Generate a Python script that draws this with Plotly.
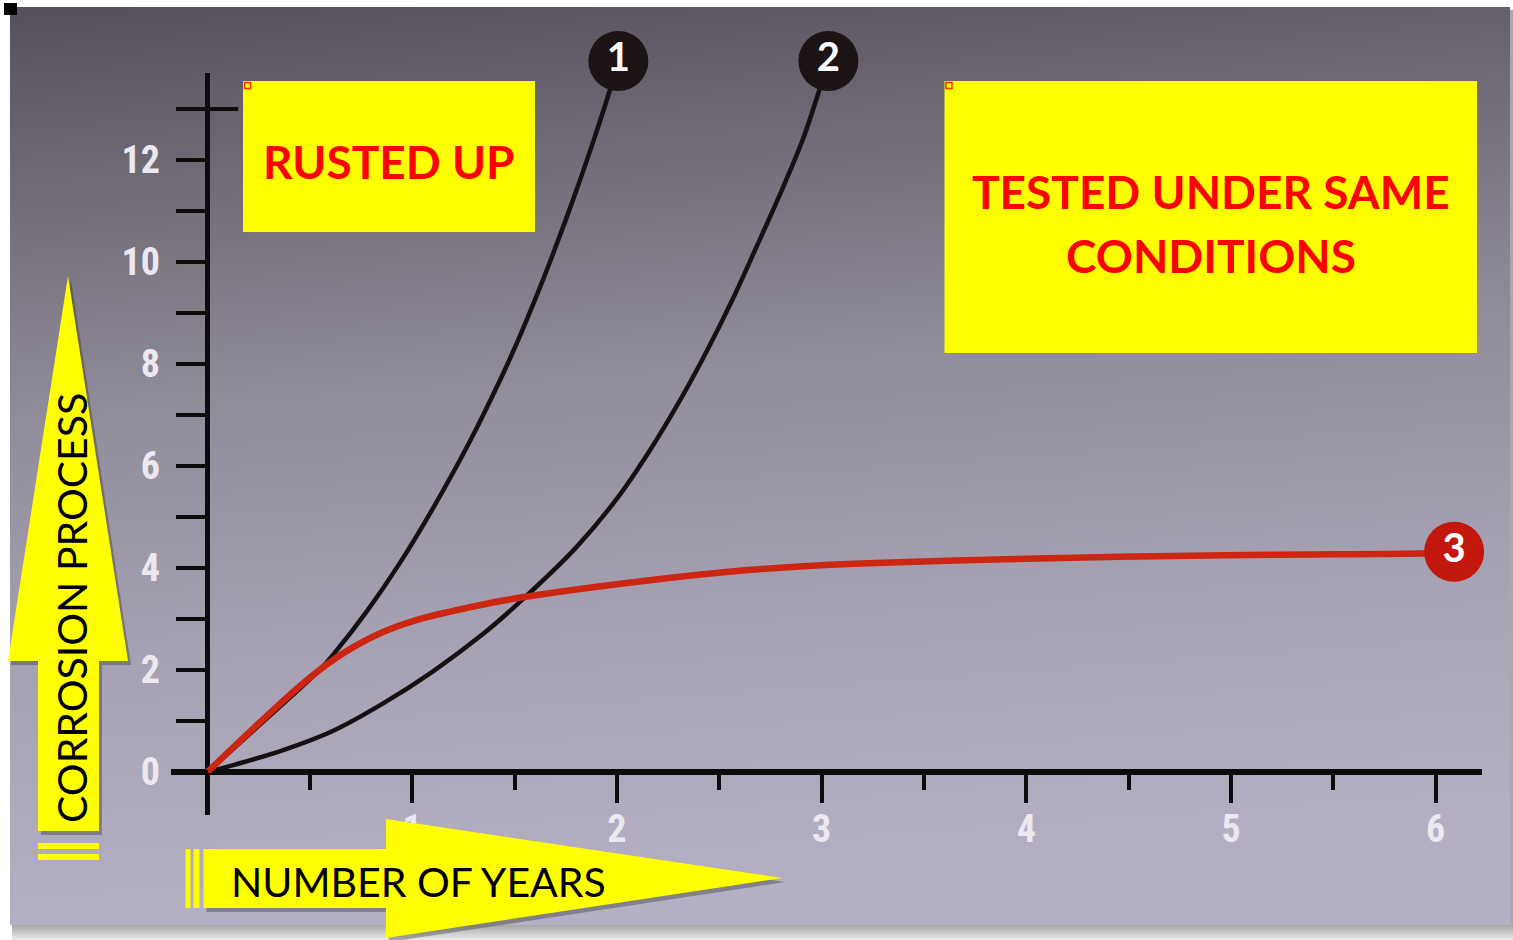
import base64
import plotly.graph_objects as go

W, H = 1513, 940

# ---------------- data ----------------
years_1 = [0, 0.29, 0.55, 0.62, 0.78, 0.94, 1.10, 1.28, 1.43, 1.51, 1.61, 1.69,
           1.80, 1.885, 1.958, 2.007]
corrosion_1 = [0, 1.05, 2.01, 2.33, 3.16, 4.10, 5.16, 6.47, 7.69, 8.40, 9.36, 10.18,
               11.38, 12.37, 13.27, 13.94]

years_2 = [0, 0.13, 0.37, 0.62, 0.86, 1.10, 1.35, 1.53, 1.80, 2.00, 2.16, 2.31,
           2.44, 2.57, 2.68, 2.81, 2.91, 2.984, 3.033]
corrosion_2 = [0, 0.14, 0.43, 0.82, 1.35, 1.97, 2.72, 3.35, 4.40, 5.36, 6.30, 7.30,
               8.26, 9.31, 10.28, 11.45, 12.42, 13.31, 13.94]

years_3 = [0, 0.13, 0.29, 0.45, 0.58, 0.70, 0.86, 1.02, 1.27, 1.53, 2.16, 2.64,
           2.89, 3.19, 3.8, 4.45, 5.2, 5.96, 6.09]
corrosion_3 = [0, 0.5, 1.10, 1.68, 2.10, 2.42, 2.75, 2.98, 3.22, 3.42, 3.76, 3.96,
               4.03, 4.09, 4.16, 4.22, 4.26, 4.29, 4.32]

curve_labels = ["1", "2", "3"]

x_tick_vals = [1, 2, 3, 4, 5, 6]
x_tick_text = ["1", "2", "3", "4", "5", "6"]
y_tick_vals = [0, 2, 4, 6, 8, 10, 12]
y_tick_text = ["0", "2", "4", "6", "8", "10", "12"]

# ---------------- helpers ----------------
def P(x, y):
    return x / W, 1 - y / H


def path(points):
    s = ""
    for i, (x, y) in enumerate(points):
        px, py = P(x, y)
        s += ("M" if i == 0 else "L") + f"{px:.5f},{py:.5f} "
    return s + "Z"


# ---------------- background (photo look) ----------------
svg = f"""<svg xmlns='http://www.w3.org/2000/svg' width='{W}' height='{H}' viewBox='0 0 {W} {H}'>
<defs>
<linearGradient id='g' x1='0' y1='0' x2='0.12' y2='1'>
<stop offset='0' stop-color='#55505a'/>
<stop offset='0.22' stop-color='#736e79'/>
<stop offset='0.45' stop-color='#928d9b'/>
<stop offset='0.7' stop-color='#a6a1b2'/>
<stop offset='1' stop-color='#b4afc2'/>
</linearGradient>
<linearGradient id='sh' x1='0' y1='0' x2='0' y2='1'>
<stop offset='0' stop-color='#8f8f8f'/>
<stop offset='1' stop-color='#ececec'/>
</linearGradient>
</defs>
<rect width='{W}' height='{H}' fill='#ffffff'/>
<rect x='12' y='920' width='{W-12}' height='20' fill='url(#sh)'/>
<rect x='1506' y='10' width='7' height='915' fill='#a9a9a9'/>
<rect x='10' y='7' width='1500' height='918' fill='url(#g)'/>
</svg>"""
bg_src = "data:image/svg+xml;base64," + base64.b64encode(svg.encode()).decode()

# ---------------- geometry ----------------
X0_PX, X1_PX = 171, 1482     # plot area left / right
Y0_PX, Y1_PX = 73, 815       # plot area top / bottom
Y0_PX_MARK = 8               # taller band for the end-point circles
ORIGIN_X_PX, ORIGIN_Y_PX = 207.5, 772
PX_PER_YEAR, PX_PER_UNIT = 204.7, 51.0

x_range = [(X0_PX - ORIGIN_X_PX) / PX_PER_YEAR, (X1_PX - ORIGIN_X_PX) / PX_PER_YEAR]
y_range = [(ORIGIN_Y_PX - Y1_PX) / PX_PER_UNIT, (ORIGIN_Y_PX - Y0_PX) / PX_PER_UNIT]
y2_range = [(ORIGIN_Y_PX - Y1_PX) / PX_PER_UNIT, (ORIGIN_Y_PX - Y0_PX_MARK) / PX_PER_UNIT]

fig = go.Figure()

line_black = "#151113"
line_red = "#cc2612"

fig.add_trace(go.Scatter(x=years_1, y=corrosion_1, mode="lines",
                         line=dict(color=line_black, width=4.5, shape="spline", smoothing=1),
                         hoverinfo="skip", showlegend=False))
fig.add_trace(go.Scatter(x=years_2, y=corrosion_2, mode="lines",
                         line=dict(color=line_black, width=4.5, shape="spline", smoothing=1),
                         hoverinfo="skip", showlegend=False))
fig.add_trace(go.Scatter(x=years_3, y=corrosion_3, mode="lines",
                         line=dict(color=line_red, width=6.5, shape="spline", smoothing=1),
                         hoverinfo="skip", showlegend=False))

end_x = [years_1[-1], years_2[-1], years_3[-1]]
end_y = [corrosion_1[-1], corrosion_2[-1], corrosion_3[-1]]
fig.add_trace(go.Scatter(
    x=end_x, y=end_y, xaxis="x2", yaxis="y2", mode="markers+text", text=curve_labels,
    textposition="middle center",
    textfont=dict(family="Lato, Open Sans, sans-serif", size=40, color="#ffffff", weight="bold"),
    marker=dict(size=60, color=["#1c1315", "#1c1315", "#c2170d"], line=dict(width=0)),
    cliponaxis=False, hoverinfo="skip", showlegend=False))

tick_font = dict(family="Liberation Sans Narrow, Roboto Condensed, Roboto, sans-serif",
                 size=38, color="#ece8f0", weight="bold")

fig.update_layout(
    width=W, height=H,
    margin=dict(l=0, r=0, t=0, b=0),
    paper_bgcolor="#ffffff",
    plot_bgcolor="rgba(0,0,0,0)",
    xaxis=dict(
        domain=[X0_PX / W, X1_PX / W],
        range=x_range,
        anchor="free", position=1 - ORIGIN_Y_PX / H,
        showgrid=False, showline=False,
        zeroline=True, zerolinecolor="#0d0b0c", zerolinewidth=5,
        tickmode="array", tickvals=x_tick_vals, ticktext=x_tick_text,
        ticks="outside", ticklen=30, tickwidth=4, tickcolor="#0d0b0c",
        minor=dict(tickmode="linear", tick0=0, dtick=0.5, ticks="outside",
                   ticklen=17, tickwidth=4, tickcolor="#0d0b0c", showgrid=False),
        tickfont=tick_font, ticklabelstandoff=-7,
        fixedrange=True,
    ),
    yaxis=dict(
        domain=[1 - Y1_PX / H, 1 - Y0_PX / H],
        range=y_range,
        anchor="free", position=ORIGIN_X_PX / W,
        showgrid=False, showline=False,
        zeroline=True, zerolinecolor="#0d0b0c", zerolinewidth=6,
        tickmode="array", tickvals=y_tick_vals, ticktext=y_tick_text,
        ticks="outside", ticklen=32, tickwidth=4, tickcolor="#0d0b0c",
        minor=dict(tickmode="linear", tick0=0, dtick=1, ticks="outside",
                   ticklen=32, tickwidth=4, tickcolor="#0d0b0c", showgrid=False),
        tickfont=tick_font, ticklabelstandoff=8,
        fixedrange=True,
    ),
    xaxis2=dict(
        domain=[X0_PX / W, X1_PX / W],
        range=x_range, anchor="y2",
        visible=False, showgrid=False, zeroline=False, fixedrange=True,
    ),
    yaxis2=dict(
        domain=[1 - Y1_PX / H, 1 - Y0_PX_MARK / H],
        range=y2_range, anchor="x2",
        visible=False, showgrid=False, zeroline=False, fixedrange=True,
    ),
    images=[dict(source=bg_src, xref="paper", yref="paper", x=0, y=1,
                 sizex=1, sizey=1, xanchor="left", yanchor="top",
                 sizing="stretch", layer="below")],
)

shapes = []
# right half of the cross tick at 13
shapes.append(dict(type="line", xref="x", yref="y", x0=0, x1=0.15, y0=13, y1=13,
                   line=dict(color="#0d0b0c", width=4), layer="below"))
# small black square top-left corner
shapes.append(dict(type="path", xref="paper", yref="paper",
                   path=path([(4, 3), (17, 3), (17, 15), (4, 15)]),
                   fillcolor="#000000", line=dict(width=0), layer="above"))

YELLOW = "#ffff00"
SHADOW = "rgba(40,40,40,0.35)"

up_arrow = [(38, 831), (38, 661), (8, 661), (68, 276), (128, 661), (99, 661), (99, 831)]
right_arrow = [(203.5, 849), (386, 849), (386, 819), (782, 878), (386, 938),
               (386, 908), (203.5, 908)]

for pts in (up_arrow, right_arrow):
    shadow_pts = [(x + 3, y + 4) for x, y in pts]
    shapes.append(dict(type="path", xref="paper", yref="paper", path=path(shadow_pts),
                       fillcolor=SHADOW, line=dict(width=0), layer="above"))
for pts in (up_arrow, right_arrow):
    shapes.append(dict(type="path", xref="paper", yref="paper", path=path(pts),
                       fillcolor=YELLOW, line=dict(width=0), layer="above"))

# stripes at the tails of the arrows
for (x0, y0, x1, y1) in [(38, 843, 99, 849), (38, 854, 99, 860),
                         (185.5, 849, 190.5, 908), (193.5, 849, 199.5, 908)]:
    shapes.append(dict(type="path", xref="paper", yref="paper",
                       path=path([(x0, y0), (x1, y0), (x1, y1), (x0, y1)]),
                       fillcolor=YELLOW, line=dict(width=0), layer="above"))

# yellow note boxes
for (x0, y0, x1, y1) in [(243, 81, 535, 232), (944.5, 81, 1477, 353)]:
    shapes.append(dict(type="path", xref="paper", yref="paper",
                       path=path([(x0, y0), (x1, y0), (x1, y1), (x0, y1)]),
                       fillcolor=YELLOW, line=dict(width=0), layer="above"))
    shapes.append(dict(type="path", xref="paper", yref="paper",
                       path=path([(x0 + 1.5, y0 + 1.5), (x0 + 7.5, y0 + 1.5),
                                  (x0 + 7.5, y0 + 7.5), (x0 + 1.5, y0 + 7.5)]),
                       fillcolor="rgba(0,0,0,0)", line=dict(color="#ff2a00", width=1.5),
                       layer="above"))

fig.update_layout(shapes=shapes)

note_font = dict(family="Lato, Open Sans, sans-serif", size=46, color="#ff0000")
arrow_font = dict(family="Lato, Open Sans, sans-serif", size=41, color="#000000")

annotations = []
def ann(text, x, y, font, angle=0):
    px, py = P(x, y)
    annotations.append(dict(text=text, x=px, y=py, xref="paper", yref="paper",
                            xanchor="center", yanchor="middle", showarrow=False,
                            font=font, textangle=angle, align="center"))

ann("<b>RUSTED UP</b>", 389, 161, note_font)
ann("<b>TESTED UNDER SAME</b>", 1211, 192, note_font)
ann("<b>CONDITIONS</b>", 1211, 256, note_font)
ann("CORROSION PROCESS", 71, 608, arrow_font, angle=-90)
ann("NUMBER OF YEARS", 418, 881, arrow_font)

fig.update_layout(annotations=annotations)

fig.write_html("out.html",
               config={"displayModeBar": False, "staticPlot": True},
               post_script="document.body.style.margin='0px';"
                           "document.body.style.overflow='hidden';")
